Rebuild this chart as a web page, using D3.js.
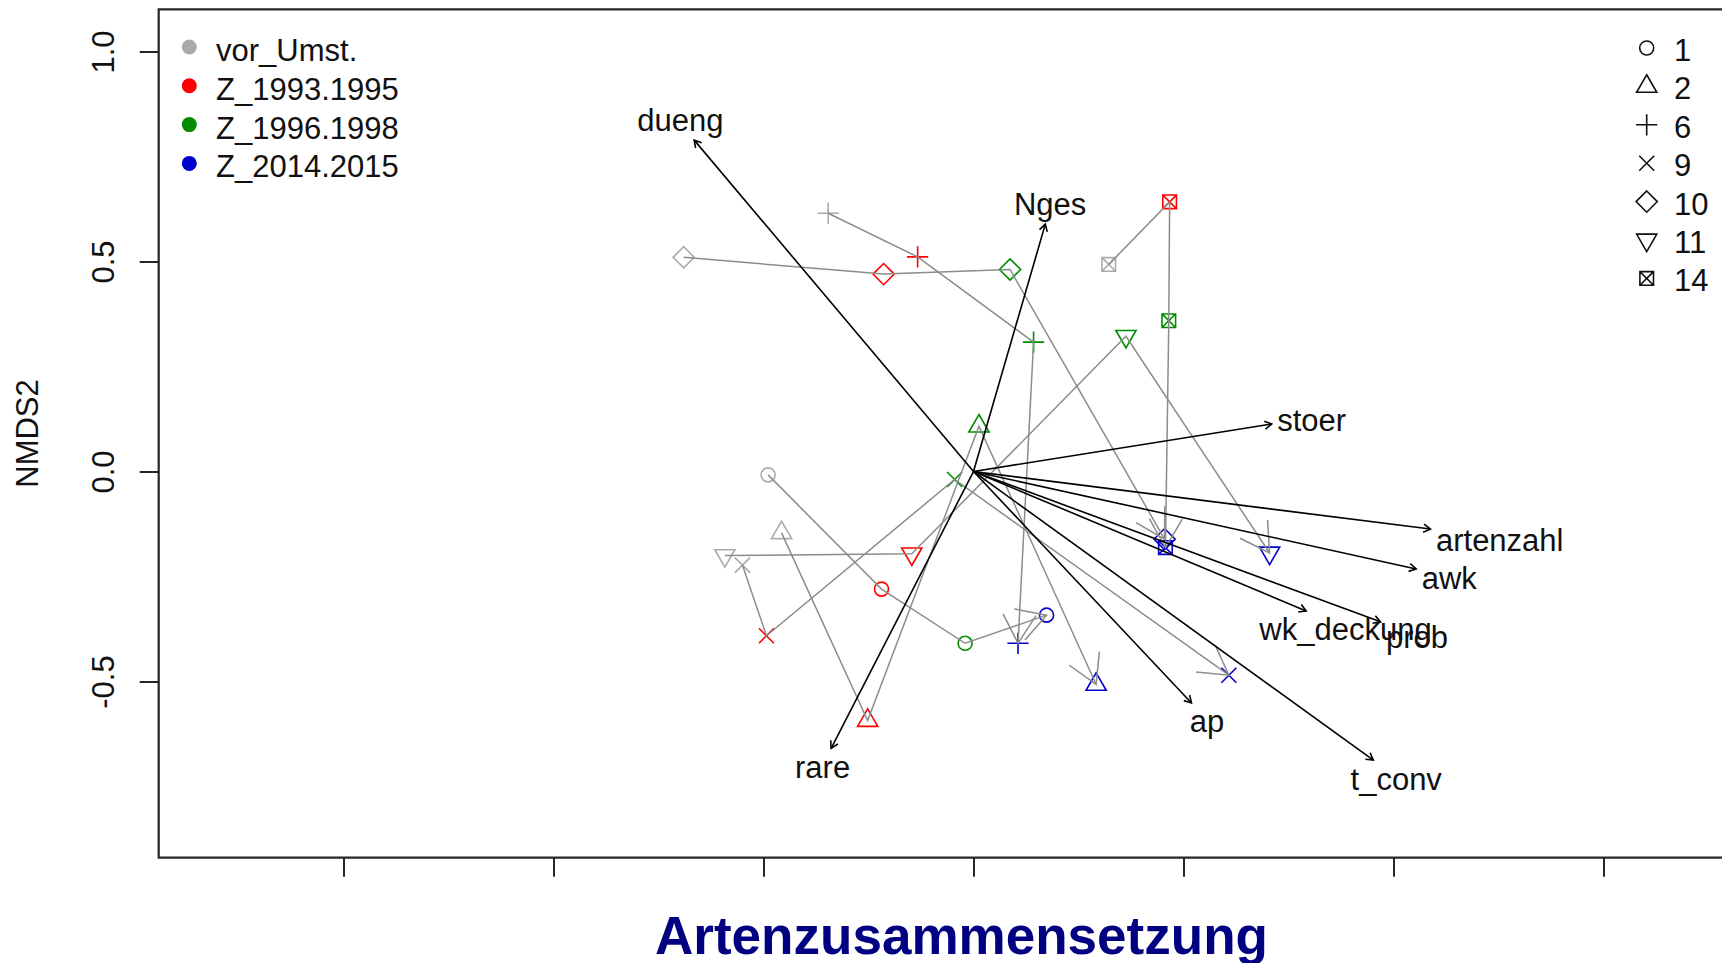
<!DOCTYPE html>
<html>
<head>
<meta charset="utf-8">
<script src="https://cdn.jsdelivr.net/npm/d3@7"></script>
<style>
html, body { margin: 0; padding: 0; background: #ffffff; }
svg { display: block; }
text { font-family: "Liberation Sans", Arial, sans-serif; }
</style>
</head>
<body>
<svg id="chart" width="1722" height="963"></svg>
<script>
// ---- Data -------------------------------------------------------------
// Monitoring sites (one trajectory per site through the four periods)
const sites = ["1", "2", "6", "9", "10", "11", "14"];
const siteShapes = ["circle", "triangle", "plus", "cross", "diamond", "nabla", "squarex"];

// Sampling periods and their colours
const periods = ["vor_Umst.", "Z_1993.1995", "Z_1996.1998", "Z_2014.2015"];
const periodColors = ["#ABABAB", "#FF0000", "#008B00", "#0000CD"];

// NMDS site scores per period, in the order of `sites`
const nmds1_vor  = [-0.489, -0.457, -0.346, -0.550, -0.690, -0.592, 0.322];
const nmds2_vor  = [-0.008, -0.146,  0.615, -0.223,  0.510, -0.200, 0.493];
const nmds1_1993 = [-0.219, -0.252, -0.133, -0.493, -0.214, -0.147, 0.467];
const nmds2_1993 = [-0.280, -0.593,  0.511, -0.391,  0.470, -0.196, 0.642];
const nmds1_1996 = [-0.020,  0.013,  0.143, -0.045,  0.087,  0.363, 0.465];
const nmds2_1996 = [-0.409,  0.108,  0.308, -0.019,  0.481,  0.322, 0.359];
const nmds1_2014 = [ 0.174,  0.292,  0.106,  0.608,  0.455,  0.705, 0.457];
const nmds2_2014 = [-0.342, -0.507, -0.409, -0.485, -0.161, -0.194, -0.181];

// Fitted environmental vectors (arrow tips in ordination units)
const envNames = ["dueng", "Nges", "stoer", "artenzahl", "awk", "wk_deckung", "prob", "ap", "t_conv", "rare"];
const envX = [-0.665, 0.171, 0.710, 1.088, 1.054, 0.792, 0.969, 0.519, 0.952, -0.339];
const envY = [ 0.789, 0.589, 0.113, -0.137, -0.232, -0.332, -0.358, -0.551, -0.687, -0.659];

// Axis ticks
const yTicks = [-0.5, 0.0, 0.5, 1.0];
const xTicks = [-1.5, -1.0, -0.5, 0.0, 0.5, 1.0, 1.5];

// ---- Layout -------------------------------------------------------------
const plotLeft = 158.7, plotTop = 9.3, plotBottom = 857.7;
const unit = 420; // pixels per ordination unit (equal aspect)
const xMin = -1.94, xMax = 2.05;
const yMin = -0.9195, yMax = 1.1005;

const svg = d3.select("#chart");
const x = d3.scaleLinear().domain([xMin, xMax]).range([plotLeft, plotLeft + (xMax - xMin) * unit]);
const y = d3.scaleLinear().domain([yMin, yMax]).range([plotBottom, plotTop]);

const FONT = 31;
const frameColor = "#262626";

// Axes (ticks only, frame drawn separately)
const yAxis = svg.append("g").attr("transform", `translate(${plotLeft},0)`)
  .call(d3.axisLeft(y).tickValues(yTicks).tickSize(19).tickFormat(d => d.toFixed(1)));
yAxis.select(".domain").remove();
yAxis.selectAll(".tick line").attr("stroke", frameColor).attr("stroke-width", 2);
yAxis.selectAll(".tick text")
  .attr("x", null).attr("dy", null)
  .attr("transform", "translate(-45,0) rotate(-90)")
  .attr("text-anchor", "middle")
  .attr("font-size", FONT)
  .attr("font-family", "Liberation Sans, Arial, sans-serif")
  .attr("fill", "#111");

const xAxis = svg.append("g").attr("transform", `translate(0,${plotBottom})`)
  .call(d3.axisBottom(x).tickValues(xTicks).tickSize(19).tickFormat(""));
xAxis.select(".domain").remove();
xAxis.selectAll(".tick line").attr("stroke", frameColor).attr("stroke-width", 2);

// Plot frame (right side runs past the canvas edge)
const rightEdge = x(xMax);
svg.append("path")
  .attr("d", `M${rightEdge},${plotTop}H${plotLeft}V${plotBottom}H${rightEdge}`)
  .attr("fill", "none").attr("stroke", frameColor).attr("stroke-width", 2.2);

// Axis title
svg.append("text")
  .attr("transform", `translate(38,${(plotTop + plotBottom) / 2}) rotate(-90)`)
  .attr("text-anchor", "middle").attr("font-size", FONT).attr("fill", "#111")
  .text("NMDS2");

// ---- Symbols ------------------------------------------------------------
const U = 20;
function symbolPath(shape, cx, cy) {
  const p = d3.path();
  if (shape === "circle") {
    const r = 0.35 * U;
    p.moveTo(cx + r, cy); p.arc(cx, cy, r, 0, 2 * Math.PI);
  } else if (shape === "triangle" || shape === "nabla") {
    const r = 1.5551 * 0.375 * U, xc = 0.866 * r, yc = 0.5 * r;
    const s = shape === "triangle" ? 1 : -1;
    p.moveTo(cx, cy - s * r); p.lineTo(cx + xc, cy + s * yc); p.lineTo(cx - xc, cy + s * yc); p.closePath();
  } else if (shape === "plus") {
    const h = 0.53 * U;
    p.moveTo(cx - h, cy); p.lineTo(cx + h, cy); p.moveTo(cx, cy - h); p.lineTo(cx, cy + h);
  } else if (shape === "cross") {
    const h = 0.375 * U;
    p.moveTo(cx - h, cy - h); p.lineTo(cx + h, cy + h); p.moveTo(cx - h, cy + h); p.lineTo(cx + h, cy - h);
  } else if (shape === "diamond") {
    const h = 0.53 * U;
    p.moveTo(cx, cy - h); p.lineTo(cx + h, cy); p.lineTo(cx, cy + h); p.lineTo(cx - h, cy); p.closePath();
  } else if (shape === "squarex") {
    const h = 0.34 * U;
    p.rect(cx - h, cy - h, 2 * h, 2 * h);
    p.moveTo(cx - h, cy - h); p.lineTo(cx + h, cy + h); p.moveTo(cx - h, cy + h); p.lineTo(cx + h, cy - h);
  }
  return p.toString();
}

// Scores grouped per period
const scoreX = [nmds1_vor, nmds1_1993, nmds1_1996, nmds1_2014];
const scoreY = [nmds2_vor, nmds2_1993, nmds2_1996, nmds2_2014];

// Site points
const pts = svg.append("g");
periods.forEach((per, pi) => {
  sites.forEach((s, si) => {
    pts.append("path")
      .attr("d", symbolPath(siteShapes[si], x(scoreX[pi][si]), y(scoreY[pi][si])))
      .attr("fill", "none").attr("stroke", periodColors[pi]).attr("stroke-width", 1.6);
  });
});

// Arrowhead helper (open head, two strokes)
function headPath(x1, y1, x2, y2, len, angDeg) {
  const th = Math.atan2(y1 - y2, x1 - x2), a = angDeg * Math.PI / 180;
  return `M${x2 + len * Math.cos(th + a)},${y2 + len * Math.sin(th + a)}L${x2},${y2}L${x2 + len * Math.cos(th - a)},${y2 + len * Math.sin(th - a)}`;
}

// Trajectories through the periods, arrowhead on the final step
const traj = svg.append("g").attr("fill", "none").attr("stroke", "#8C8C8C").attr("stroke-width", 1.5);
sites.forEach((s, si) => {
  const coords = periods.map((per, pi) => [x(scoreX[pi][si]), y(scoreY[pi][si])]);
  traj.append("path").attr("d", d3.line()(coords));
  const a = coords[coords.length - 2], b = coords[coords.length - 1];
  traj.append("path").attr("d", headPath(a[0], a[1], b[0], b[1], 33, 30));
});

// Environmental vectors
const env = svg.append("g");
const ox = x(0), oy = y(0);
envNames.forEach((nm, i) => {
  const tx = x(envX[i]), ty = y(envY[i]);
  env.append("line").attr("x1", ox).attr("y1", oy).attr("x2", tx).attr("y2", ty)
    .attr("stroke", "#000").attr("stroke-width", 1.6);
  env.append("path").attr("d", headPath(ox, oy, tx, ty, 8, 30))
    .attr("fill", "none").attr("stroke", "#000").attr("stroke-width", 1.6);
});

// Vector labels placed beyond the arrow tips so they do not overlap the arrow
const strH = 22;
envNames.forEach((nm, i) => {
  const t = env.append("text").attr("font-size", FONT).attr("fill", "#111")
    .attr("text-anchor", "middle").text(nm);
  const w = t.node().getComputedTextLength();
  const dx = envX[i], dy = envY[i];
  const b = dy / dx;
  let offX = Math.sign(dx) * (w / 2 + strH / 4);
  let offY = 0.75 * strH * Math.sign(dy);
  const move = offY / b;
  let hitsTop = false;
  if (isFinite(move) && Math.abs(move) <= Math.abs(offX)) { offX = move; hitsTop = dy > 0; }
  else offY = b * offX;
  const cx = x(dx) + offX, cy = y(dy) - offY;
  t.attr("x", cx).attr("y", cy + (hitsTop ? 7 : 13));
});

// ---- Legends ------------------------------------------------------------
const legL = svg.append("g");
periods.forEach((per, i) => {
  const ry = 47 + 38.8 * i;
  legL.append("circle").attr("cx", 189.3).attr("cy", ry).attr("r", 7.5).attr("fill", periodColors[i]);
  legL.append("text").attr("x", 216).attr("y", ry + 14).attr("font-size", FONT).attr("fill", "#111").text(per);
});

const legR = svg.append("g");
sites.forEach((s, i) => {
  const ry = 48 + 38.4 * i;
  legR.append("path").attr("d", symbolPath(siteShapes[i], 1646.7, ry))
    .attr("fill", "none").attr("stroke", "#111").attr("stroke-width", 1.6);
  legR.append("text").attr("x", 1674).attr("y", ry + 13).attr("font-size", FONT).attr("fill", "#111").text(s);
});

// ---- Title --------------------------------------------------------------
svg.append("text")
  .attr("x", 655).attr("y", 954)
  .attr("font-size", 53).attr("font-weight", "bold").attr("fill", "#000080")
  .attr("textLength", 613).attr("lengthAdjust", "spacingAndGlyphs")
  .text("Artenzusammensetzung");
</script>
</body>
</html>
